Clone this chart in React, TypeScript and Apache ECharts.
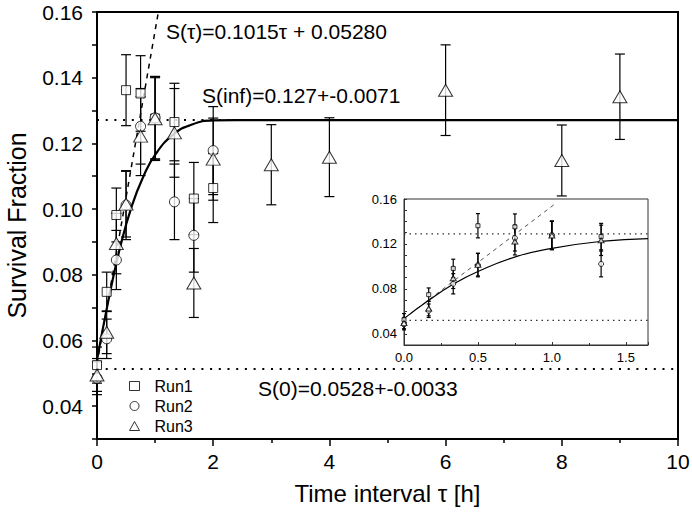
import React, { useEffect, useRef } from "react";
import * as echarts from "echarts";

const FONT = "'Liberation Sans', Arial, sans-serif";

// Measured data (time interval in h, survival fraction, error)
const times12 = [0, 0.167, 0.333, 0.5, 0.75, 1.0, 1.333, 1.667, 2];
const run1 = [0.0525, 0.0748, 0.0982, 0.1362, 0.1352, 0.1276, 0.1265, 0.1032, 0.1064];
const run1Err = [0.0055, 0.006, 0.0082, 0.0108, 0.0115, 0.0128, 0.0118, 0.011, 0.0105];
const run2 = [0.0485, 0.0605, 0.0845, 0.1012, 0.1252, 0.1278, 0.1022, 0.092, 0.1178];
const run2Err = [0.005, 0.006, 0.009, 0.0105, 0.0115, 0.0125, 0.0115, 0.0112, 0.0134];
const times3 = [0, 0.167, 0.333, 0.5, 0.75, 1.0, 1.333, 1.667, 2, 3, 4, 6, 8, 9];
const run3 = [0.0495, 0.0625, 0.0895, 0.1015, 0.1222, 0.1275, 0.1232, 0.0775, 0.1152, 0.1135, 0.1158, 0.1362, 0.1148, 0.1342];
const run3Err = [0.005, 0.0065, 0.0092, 0.01, 0.012, 0.0125, 0.0135, 0.0105, 0.0125, 0.0122, 0.012, 0.0138, 0.0108, 0.013];

// Fit curve
const fitT = [0, 0.2, 0.4, 0.6, 0.8, 1.0, 1.3, 1.6, 2.0, 2.4, 10];
const fitS = [0.054, 0.0725, 0.0885, 0.101, 0.11, 0.1165, 0.1225, 0.1255, 0.127, 0.1271, 0.1271];
// Linear initial-slope line S(t)=0.1015t+0.0528 (endpoints)
const linT = [0, 1.056];
const linS = [0.0528, 0.16];
// Plateau and initial levels as drawn
const levelInf = 0.1271;
const level0 = 0.0513;

// Inset curves
const insetFitT = [0, 0.165, 0.335, 0.5, 0.753, 1.0, 1.33, 1.65];
const insetFitS = [0.0535, 0.0696, 0.0843, 0.0955, 0.1085, 0.1161, 0.1222, 0.1248];
const insetLinT = [0, 1.03];
const insetLinS = [0.0535, 0.1565];
const insetLevelInf = 0.129;
const insetLevel0 = 0.052;

const xTickLabels = ["0", "2", "4", "6", "8", "10"];

function pts(t: number[], v: number[]) {
  return t.map((x, i) => [x, v[i]]);
}
function bars(t: number[], v: number[], e: number[], maxT = Infinity) {
  return t
    .map((x, i) => [x, v[i] - e[i], v[i] + e[i]])
    .filter((d) => d[0] <= maxT);
}
function errSeries(data: number[][], xi: number, cap: number, lw: number) {
  return {
    type: "custom",
    xAxisIndex: xi,
    yAxisIndex: xi,
    z: 2,
    silent: true,
    encode: { x: 0, y: [1, 2] },
    data,
    renderItem: (params: any, api: any) => {
      const x = api.value(0);
      const lo = api.coord([x, api.value(1)]);
      const hi = api.coord([x, api.value(2)]);
      const w = cap / 2;
      const st = { stroke: "#000", lineWidth: lw };
      return {
        type: "group",
        children: [
          { type: "line", shape: { x1: lo[0], y1: lo[1], x2: hi[0], y2: hi[1] }, style: st },
          { type: "line", shape: { x1: lo[0] - w, y1: lo[1], x2: lo[0] + w, y2: lo[1] }, style: st },
          { type: "line", shape: { x1: hi[0] - w, y1: hi[1], x2: hi[0] + w, y2: hi[1] }, style: st },
        ],
      };
    },
  };
}
function scatter(name: string, data: number[][], symbol: string, size: any, xi: number) {
  return {
    name,
    type: "scatter",
    xAxisIndex: xi,
    yAxisIndex: xi,
    symbol,
    symbolSize: size,
    z: 5,
    data,
    itemStyle: { color: "#fff", borderColor: "#000", borderWidth: 1 },
  };
}
function line(data: number[][], xi: number, style: any, smooth: any = false) {
  return {
    type: "line",
    xAxisIndex: xi,
    yAxisIndex: xi,
    data,
    symbol: "none",
    smooth,
    z: 3,
    silent: true,
    lineStyle: style,
  };
}

export default function App() {
  const ref = useRef<HTMLDivElement>(null);
  useEffect(() => {
    if (!ref.current) return;
    const chart = echarts.init(ref.current, undefined, { renderer: "svg" });
    const txt = { color: "#000", fontFamily: FONT };
    const option: any = {
      animation: false,
      backgroundColor: "#fff",
      grid: [
        {
          left: 97, right: 14, top: 12, bottom: 82, show: true, borderColor: "#000", borderWidth: 2,
          containLabel: false, outerBoundsMode: "none",
        },
        {
          left: 404, right: 44, top: 199, bottom: 176, show: true, borderColor: "#333", borderWidth: 1,
          containLabel: false, outerBoundsMode: "none",
        },
      ],
      xAxis: [
        {
          type: "value",
          gridIndex: 0,
          min: 0,
          max: 10,
          interval: 2,
          splitLine: { show: false },
          axisLine: { lineStyle: { color: "#000", width: 2 } },
          axisTick: { length: 7, lineStyle: { color: "#000", width: 1.5 } },
          minorTick: { show: true, splitNumber: 2, length: 4, lineStyle: { color: "#000", width: 1.5 } },
          minorSplitLine: { show: false },
          axisLabel: {
            ...txt,
            fontSize: 21,
            margin: 12,
            formatter: (v: number) => xTickLabels[Math.round(v / 2)] ?? "",
          },
          name: "Time interval τ [h]",
          nameLocation: "middle",
          nameGap: 42,
          nameTextStyle: { ...txt, fontSize: 24 },
        },
        {
          type: "value",
          gridIndex: 1,
          min: 0,
          max: 1.65,
          interval: 0.5,
          splitLine: { show: false },
          axisLine: { lineStyle: { color: "#333", width: 1 } },
          axisTick: { inside: true, length: 3, lineStyle: { color: "#333" } },
          minorTick: { show: true, splitNumber: 2, length: 2, lineStyle: { color: "#333" } },
          axisLabel: {
            ...txt,
            fontSize: 13,
            margin: 6,
            showMaxLabel: false,
            formatter: (v: number) => v.toFixed(1),
          },
        },
      ],
      yAxis: [
        {
          type: "value",
          gridIndex: 0,
          min: 0.03,
          max: 0.16,
          interval: 0.01,
          splitLine: { show: false },
          axisLine: { lineStyle: { color: "#000", width: 2 } },
          axisTick: { length: 5, lineStyle: { color: "#000", width: 1.5 } },
          axisLabel: {
            ...txt,
            fontSize: 21,
            margin: 14,
            formatter: (v: number) => (Math.round(v * 100) % 2 === 0 ? v.toFixed(2) : ""),
          },
          name: "Survival Fraction",
          nameLocation: "middle",
          nameGap: 68,
          nameRotate: 90,
          nameTextStyle: { ...txt, fontSize: 25 },
        },
        {
          type: "value",
          gridIndex: 1,
          min: 0.03,
          max: 0.16,
          interval: 0.01,
          splitLine: { show: false },
          axisLine: { lineStyle: { color: "#333", width: 1 } },
          axisTick: { inside: true, length: 3, lineStyle: { color: "#333" } },
          axisLabel: {
            ...txt,
            fontSize: 13,
            margin: 7,
            formatter: (v: number) => (Math.round(v * 100) % 4 === 0 ? v.toFixed(2) : ""),
          },
        },
      ],
      legend: {
        data: ["Run1", "Run2", "Run3"],
        orient: "vertical",
        left: 124,
        top: 373,
        itemGap: 4,
        itemWidth: 10,
        itemHeight: 9,
        textStyle: { ...txt, fontSize: 16, padding: [0, 0, 0, 10] },
        itemStyle: { color: "#fff", borderColor: "#000", borderWidth: 1 },
      },
      graphic: [
        { type: "text", left: 166, top: 21, style: { text: "S(τ)=0.1015τ + 0.05280", fill: "#000", font: `21px ${FONT}` } },
        { type: "text", left: 202, top: 85, style: { text: "S(inf)=0.127+-0.0071", fill: "#000", font: `21px ${FONT}` } },
        { type: "text", left: 258, top: 378, style: { text: "S(0)=0.0528+-0.0033", fill: "#000", font: `21px ${FONT}` } },
      ],
      series: [
        // main plot
        line([[0, levelInf], [10, levelInf]], 0, { color: "#000", width: 2, type: [2, 6.7] }),
        line([[0, level0], [10, level0]], 0, { color: "#000", width: 2, type: [2, 6.7] }),
        line(pts(linT, linS), 0, { color: "#000", width: 1.5, type: [5, 5] }),
        line(pts(fitT, fitS), 0, { color: "#000", width: 2.2 }, 0.5),
        errSeries(bars(times12, run1, run1Err), 0, 10, 1.2),
        errSeries(bars(times12, run2, run2Err), 0, 10, 1.2),
        errSeries(bars(times3, run3, run3Err), 0, 10, 1.2),
        scatter("Run1", pts(times12, run1), "rect", 9, 0),
        scatter("Run2", pts(times12, run2), "circle", 10, 0),
        scatter("Run3", pts(times3, run3), "triangle", [14, 12], 0),
        // inset
        line([[0, insetLevelInf], [1.65, insetLevelInf]], 1, { color: "#333", width: 1.2, type: [1.5, 4] }),
        line([[0, insetLevel0], [1.65, insetLevel0]], 1, { color: "#333", width: 1.2, type: [1.5, 4] }),
        line(pts(insetLinT, insetLinS), 1, { color: "#555", width: 1, type: [4, 4] }),
        line(pts(insetFitT, insetFitS), 1, { color: "#000", width: 1.2 }, 0.5),
        errSeries(bars(times12, run1, run1Err, 1.4), 1, 4, 1.2),
        errSeries(bars(times12, run2, run2Err, 1.4), 1, 4, 1.2),
        errSeries(bars(times3, run3, run3Err, 1.4), 1, 4, 1.2),
        scatter("i1", pts(times12, run1).filter((d) => d[0] <= 1.4), "rect", 4, 1),
        scatter("i2", pts(times12, run2).filter((d) => d[0] <= 1.4), "circle", 5, 1),
        scatter("i3", pts(times3, run3).filter((d) => d[0] <= 1.4), "triangle", [6, 5], 1),
      ],
    };
    chart.setOption(option);
    return () => chart.dispose();
  }, []);
  return (
    <div
      ref={ref}
      style={{ position: "fixed", left: 0, top: 0, width: 692, height: 521, background: "#fff" }}
    />
  );
}
